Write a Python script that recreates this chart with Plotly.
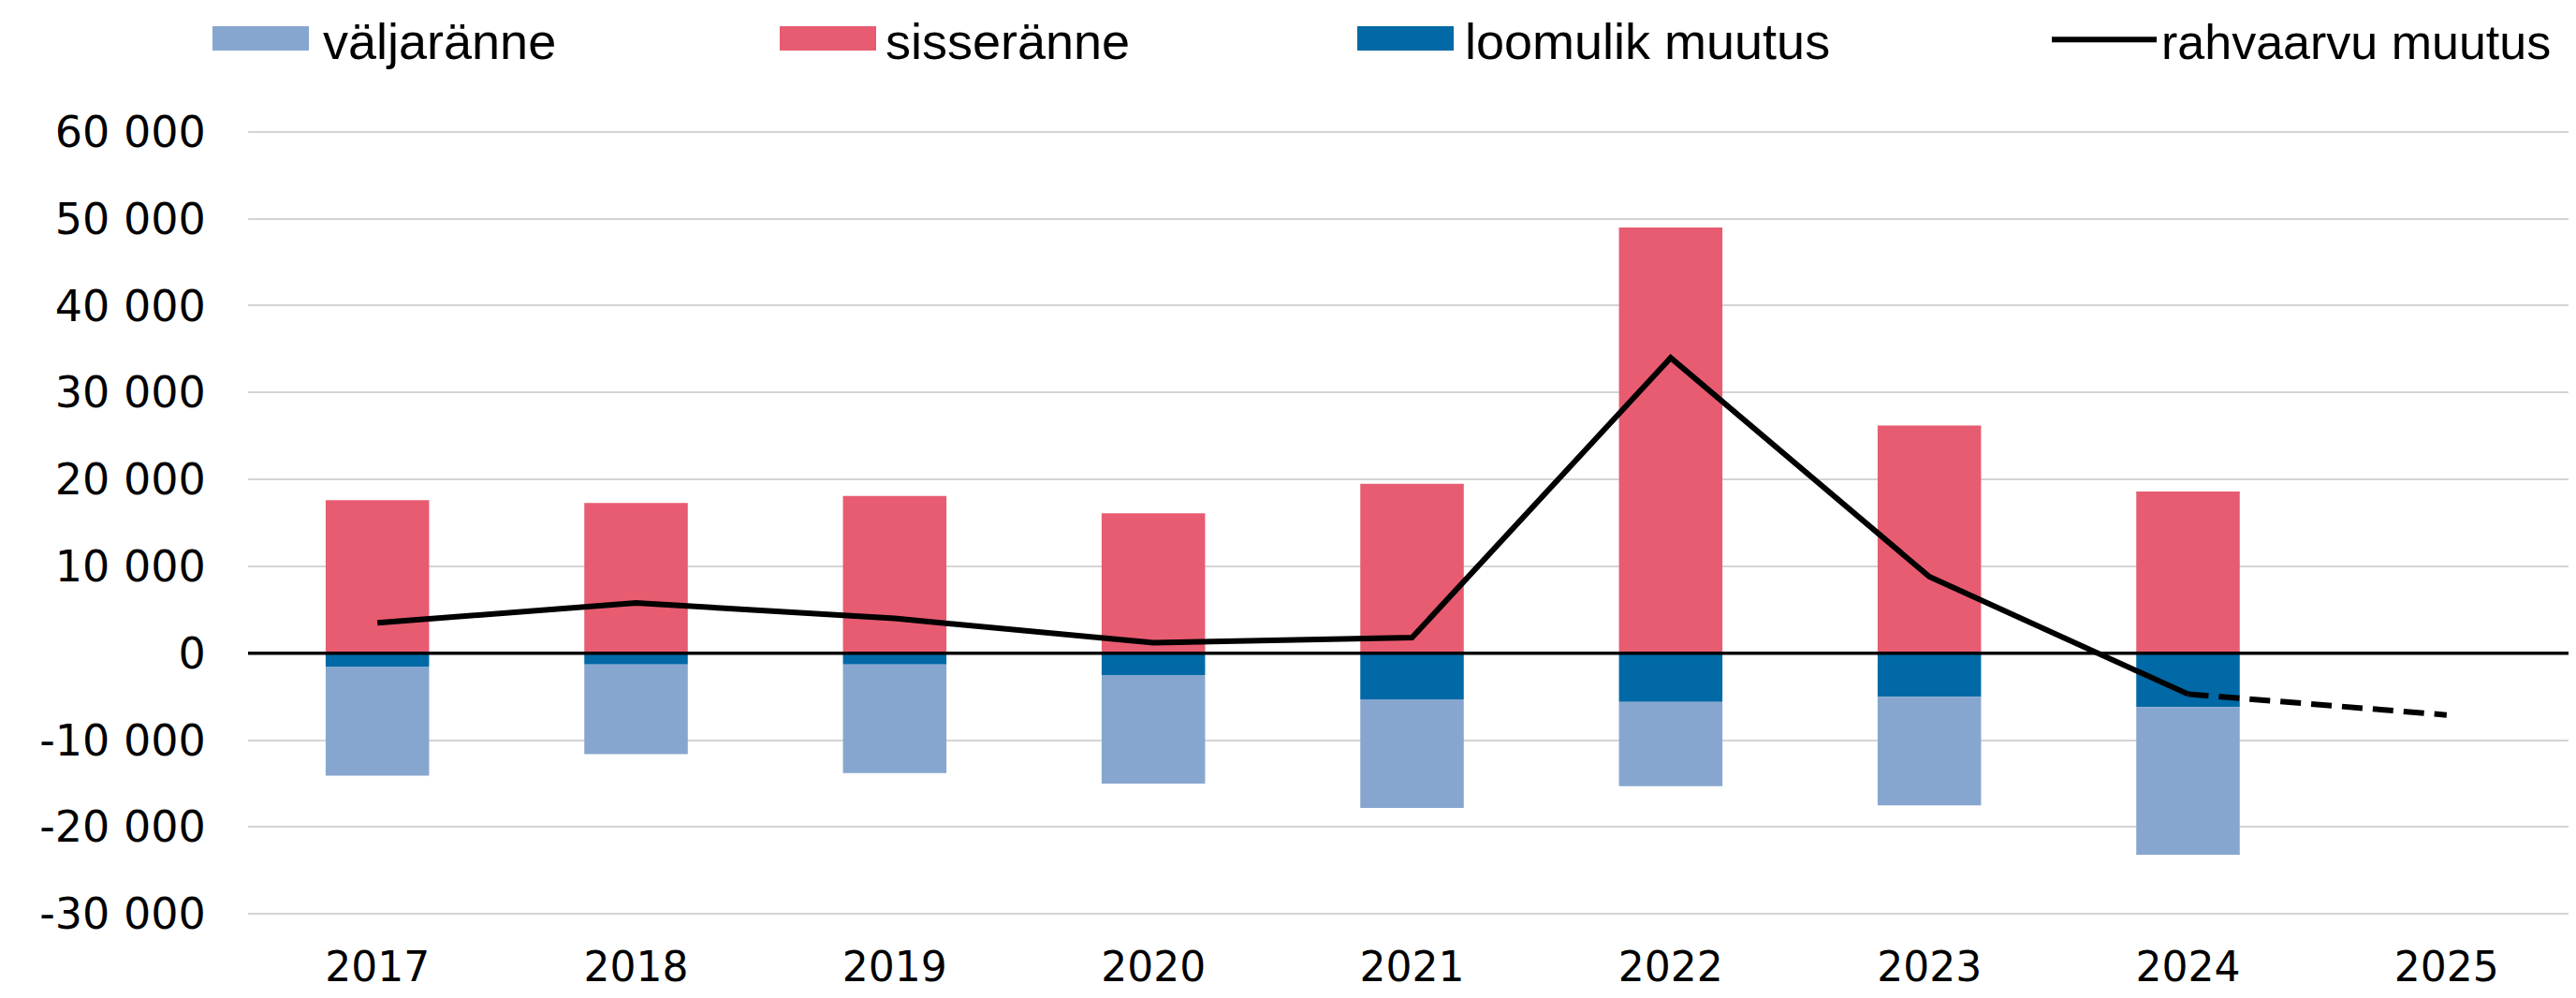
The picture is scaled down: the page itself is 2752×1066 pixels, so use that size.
import plotly.graph_objects as go

years = ["2017", "2018", "2019", "2020", "2021", "2022", "2023", "2024", "2025"]
valjaranne = [-12500, -10300, -12500, -12500, -12500, -9700, -12500, -17000, None]
sisseranne = [17600, 17300, 18100, 16100, 19500, 49000, 26200, 18600, None]
loomulik_muutus = [-1600, -1300, -1300, -2500, -5300, -5600, -5000, -6200, None]
rahvaarvu_muutus = [3500, 5800, 4000, 1200, 1800, 34000, 8800, -4700, -7100]

y_tickvals = [60000, 50000, 40000, 30000, 20000, 10000, 0, -10000, -20000, -30000]
y_ticktext = ["60 000", "50 000", "40 000", "30 000", "20 000", "10 000", "0",
              "-10 000", "-20 000", "-30 000"]

C_VALJ = "#87A6CF"
C_SISSE = "#E75C70"
C_LOOM = "#0069A6"
FONT = "DejaVu Sans"
LEG_FONT = "Liberation Sans"
FS = 44
FS_LEG = 54

# the page body adds an 8px offset; the figure fills the rest of the window
W, H = 2744, 1058
PL, PR, PT, PB = 257, 0, 130, 87

fig = go.Figure()
# negative stack: loomulik nearest zero, then väljaränne
fig.add_trace(go.Bar(x=years, y=loomulik_muutus, name="loomulik muutus",
                     marker=dict(color=C_LOOM, line=dict(width=0)),
                     legend="legend3"))
fig.add_trace(go.Bar(x=years, y=valjaranne, name="väljaränne",
                     marker=dict(color=C_VALJ, line=dict(width=0)),
                     legend="legend"))
fig.add_trace(go.Bar(x=years, y=sisseranne, name="sisseränne",
                     marker=dict(color=C_SISSE, line=dict(width=0)),
                     legend="legend2"))
fig.add_trace(go.Scatter(x=years[:8], y=rahvaarvu_muutus[:8], name="rahvaarvu muutus",
                         mode="lines", line=dict(color="black", width=6),
                         legend="legend4"))
fig.add_trace(go.Scatter(x=years[7:], y=rahvaarvu_muutus[7:], name="rahvaarvu muutus (prognoos)",
                         mode="lines", line=dict(color="black", width=6, dash="22px,11px"),
                         showlegend=False))

LEG_Y = 1 - 34.5 / H

def leg(x_px, itemwidth, size=FS_LEG):
    return dict(orientation="h", xref="container", yref="container",
                x=x_px / W, y=LEG_Y, xanchor="left", yanchor="middle",
                font=dict(family=LEG_FONT, size=size, color="black"),
                bgcolor="rgba(0,0,0,0)", itemwidth=itemwidth,
                itemsizing="trace")

# paper-coordinate helpers for legend swatches
pw = W - PL - PR
ph = H - PT - PB
def px_x(x):
    return (x - PL) / pw
def px_y(y):
    return (H - PB - y) / ph

swatches = [(219, 322, C_VALJ), (825, 928, C_SISSE), (1442, 1545, C_LOOM)]
shapes = [dict(type="line", xref="paper", yref="y", x0=0, x1=1, y0=0, y1=0,
               line=dict(color="black", width=3.5), layer="above")]
for x0, x1, c in swatches:
    shapes.append(dict(type="rect", xref="paper", yref="paper",
                       x0=px_x(x0), x1=px_x(x1), y0=px_y(46), y1=px_y(20),
                       fillcolor=c, line=dict(width=0), layer="above"))

fig.update_layout(
    width=W, height=H,
    margin=dict(l=PL, r=PR, t=PT, b=PB),
    paper_bgcolor="white", plot_bgcolor="white",
    barmode="relative", bargap=0.60,
    font=dict(family=FONT, size=FS, color="black"),
    legend=leg(227, 100),
    legend2=leg(828, 100),
    legend3=leg(1447, 100),
    legend4=leg(2179, 112, 52),
    xaxis=dict(type="category", showgrid=False, showline=False, zeroline=False,
               ticks="outside", ticklen=15, tickcolor="rgba(0,0,0,0)",
               tickfont=dict(family=FONT, size=FS, color="black")),
    yaxis=dict(range=[-30300, 60300], tickvals=y_tickvals, ticktext=y_ticktext,
               showgrid=True, gridcolor="#D4D4D4", gridwidth=2,
               zeroline=False, showline=False,
               ticks="outside", ticklen=35, tickcolor="rgba(0,0,0,0)",
               tickfont=dict(family=FONT, size=46, color="black")),
    shapes=shapes,
)

fig.write_html("out.html")
